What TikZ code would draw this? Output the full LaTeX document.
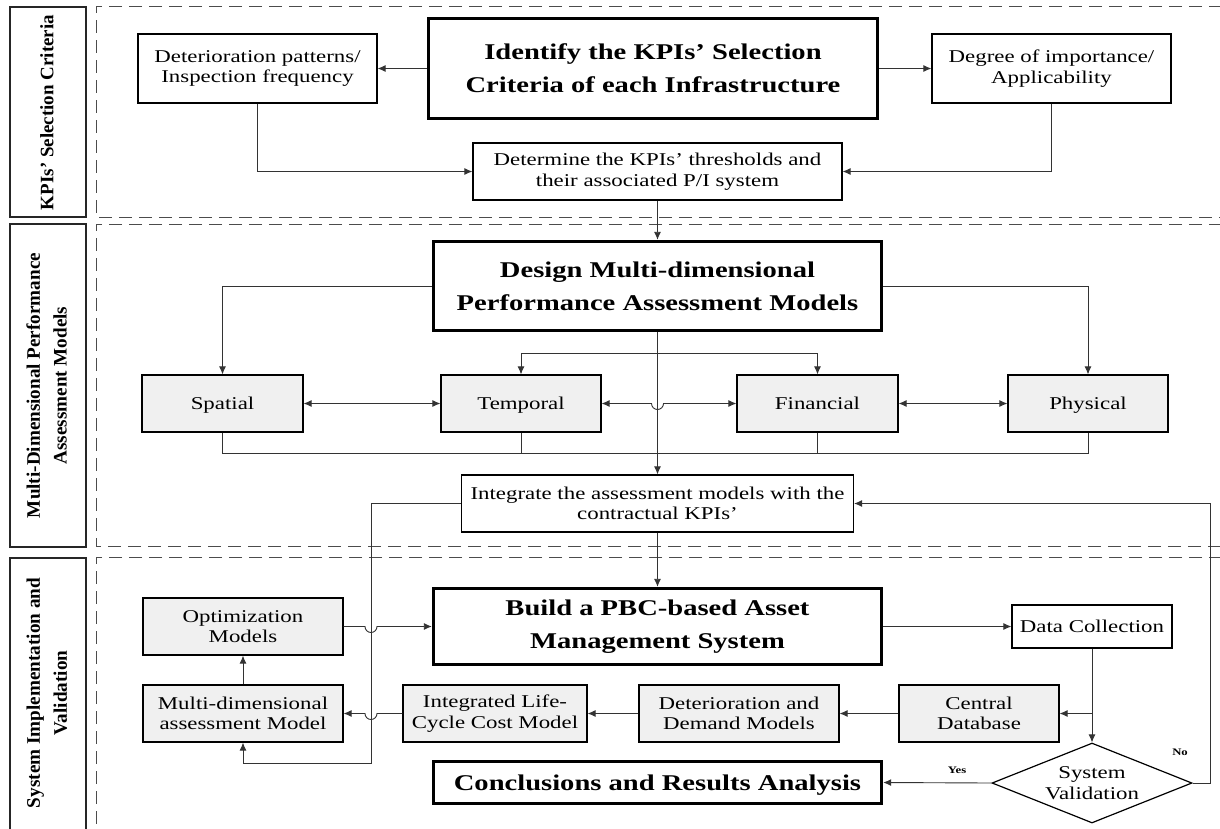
\documentclass[tikz,border=0pt]{standalone}
\usepackage{fontspec}
\usepackage{graphicx}
\setmainfont{Liberation Serif}[FakeStretch=1.27]
\newfontfamily\regfont{Liberation Serif}[FakeStretch=1.27,Ligatures=TeX]
\newfontfamily\rotfont{Liberation Serif}[Ligatures=TeX]
\newcommand{\labfit}[2]{\resizebox{#1}{!}{\fontsize{20}{28}\rotfont\bfseries\begin{tabular}{@{}c@{}}#2\end{tabular}}}
\usetikzlibrary{arrows.meta,shapes.geometric,calc}
\begin{document}
\begin{tikzpicture}[x=1pt,y=-1pt,
  every node/.style={inner sep=0pt,align=center},
  box/.style={draw=black,line width=1.2pt,font=\fontsize{18}{20.5}\regfont},
  gbox/.style={box,fill=black!6},
  one/.style={text height=12pt,text depth=0pt},
  tbox/.style={draw=black,line width=3.4pt,font=\fontsize{22.5}{33}\selectfont\bfseries},
  lab/.style={draw=black!85,line width=1.2pt,minimum width=76pt},
  labtext/.style={rotate=90},
  dline/.style={draw=black!70,line width=1pt,dash pattern=on 13pt off 7pt},
  conn/.style={draw=black!80,line width=0.9pt},
  arr/.style={conn,-{Latex[length=8pt,width=7pt]}},
  darr/.style={conn,{Latex[length=8pt,width=7pt]}-{Latex[length=8pt,width=7pt]}},
  small/.style={font=\fontsize{10}{12}\selectfont\bfseries}]
\useasboundingbox (0,0) rectangle (1220,828);
\clip (0,0) rectangle (1220,828);
% section frames
\draw[dline] (1222,6) -- (96,6) -- (96,217) -- (1222,217);
\draw[dline] (1222,224) -- (96,224) -- (96,546) -- (1222,546);
\draw[dline] (1222,557) -- (96,557) -- (96,832);
% side labels
\node[lab,minimum height=210pt] (L1) at (48,112) {};
\node[lab,minimum height=323pt] (L2) at (48,385.5) {};
\node[lab,minimum height=275pt] (L3) at (48,695.5) {};
\node[labtext] (L1t) at (48,112.5) {\labfit{195pt}{KPIs' Selection Criteria}};
\node[labtext] (L2t) at (48,385.5) {\labfit{265pt}{Multi-Dimensional Performance\\Assessment Models}};
\node[labtext] (L3t) at (48,693) {\labfit{230pt}{System Implementation and\\Validation}};
% top section
\node[box,minimum width=239pt,minimum height=69pt] (det) at (257.5,68.5) {Deterioration patterns/\\Inspection frequency};
\node[tbox,minimum width=449pt,minimum height=100pt] (ident) at (653,68.5) {Identify the KPIs' Selection\\Criteria of each Infrastructure};
\node[box,minimum width=239pt,minimum height=69pt] (deg) at (1051.5,68.5) {Degree of importance/\\Applicability};
\node[box,minimum width=369pt,minimum height=57pt] (determ) at (657.5,171.5) {Determine the KPIs' thresholds and\\their associated P/I system};
% middle section
\node[tbox,minimum width=448pt,minimum height=89pt] (design) at (657.5,286) {Design Multi-dimensional\\Performance Assessment Models};
\node[gbox,one,minimum width=161pt,minimum height=57pt] (spatial) at (222.5,403.5) {Spatial};
\node[gbox,one,minimum width=160pt,minimum height=57pt] (temporal) at (521,403.5) {Temporal};
\node[gbox,one,minimum width=161pt,minimum height=57pt] (financial) at (817.5,403.5) {Financial};
\node[gbox,one,minimum width=160pt,minimum height=57pt] (physical) at (1088,403.5) {Physical};
\node[box,minimum width=392pt,minimum height=57pt] (integ) at (657.5,503.5) {Integrate the assessment models with the\\contractual KPIs'};
% bottom section
\node[tbox,minimum width=448pt,minimum height=76pt] (build) at (657.5,626.5) {Build a PBC-based Asset\\Management System};
\node[gbox,minimum width=200pt,minimum height=57pt] (optim) at (243,626.5) {Optimization\\Models};
\node[gbox,minimum width=200pt,minimum height=57pt] (multi) at (243,713.5) {Multi-dimensional\\assessment Model};
\node[gbox,minimum width=184pt,minimum height=57pt] (lcc) at (495,713.5) {Integrated Life-\\Cycle Cost Model};
\node[gbox,minimum width=200pt,minimum height=57pt] (detdem) at (739,713.5) {Deterioration and\\Demand Models};
\node[gbox,minimum width=160pt,minimum height=57pt] (central) at (979,713.5) {Central\\Database};
\node[box,one,minimum width=160pt,minimum height=43pt] (datacol) at (1092,626.5) {Data Collection};
\node[draw=black,line width=1.2pt,diamond,aspect=2.5,minimum width=200pt,minimum height=80pt,font=\fontsize{18}{20.5}\regfont] (valid) at (1092,783) {System\\Validation};
\node[tbox,text height=15pt,text depth=0pt,minimum width=448pt,minimum height=42pt] (concl) at (657.5,782.5) {Conclusions and Results Analysis};
\node[small] (yes) at (957,770) {Yes};
\node[small] (no) at (1180,752) {No};
% coordinates
\coordinate (br) at (657.5,353);
\coordinate (busL) at (222.5,453);
\coordinate (busR) at (1088,453);
\coordinate (j1) at (657.5,403.5);
\coordinate (j2) at (371,626.5);
\coordinate (j3) at (371,713.5);
\coordinate (c2) at (371,763);
\coordinate (c3) at (1210,783);
\coordinate (dcb) at (1092,713.5);
% top connectors
\draw[arr] (ident.west) -- (det.east);
\draw[arr] (ident.east) -- (deg.west);
\draw[arr] (det.south) |- (determ.west);
\draw[arr] (deg.south) |- (determ.east);
\draw[arr] (determ.south) -- (design.north);
% middle connectors
\draw[arr] (design.west) -| (spatial.north);
\draw[arr] (design.east) -| (physical.north);
\draw[arr] (design.south) -- (integ.north);
\draw[arr] (br) -| (temporal.north);
\draw[arr] (br) -| (financial.north);
\draw[darr] (spatial.east) -- (temporal.west);
\draw[darr] (temporal.east) -- ($(j1)+(-6,0)$) arc[start angle=180,end angle=0,radius=6] -- (financial.west);
\draw[darr] (financial.east) -- (physical.west);
\draw[conn] (spatial.south) -- (busL) -- (busR) -- (physical.south);
\draw[conn] (temporal.south) -- (temporal.south |- busL);
\draw[conn] (financial.south) -- (financial.south |- busL);
% bottom connectors
\draw[arr] (integ.south) -- (build.north);
\draw[arr] (integ.west) -| (c2) -| (multi.south);
\draw[arr] (valid.east) -- (c3) |- (integ.east);
\draw[arr] (optim.east) -- ($(j2)+(-6,0)$) arc[start angle=180,end angle=0,radius=6] -- (build.west);
\draw[arr] (multi.north) -- (optim.south);
\draw[arr] (lcc.west) -- ($(j3)+(6,0)$) arc[start angle=0,end angle=180,radius=6] -- (multi.east);
\draw[arr] (detdem.west) -- (lcc.east);
\draw[arr] (central.west) -- (detdem.east);
\draw[arr] (build.east) -- (datacol.west);
\draw[arr] (datacol.south) -- (valid.north);
\draw[arr] (dcb) -- (central.east);
\draw[arr] (valid.west) -- (concl.east);
\end{tikzpicture}
\end{document}
